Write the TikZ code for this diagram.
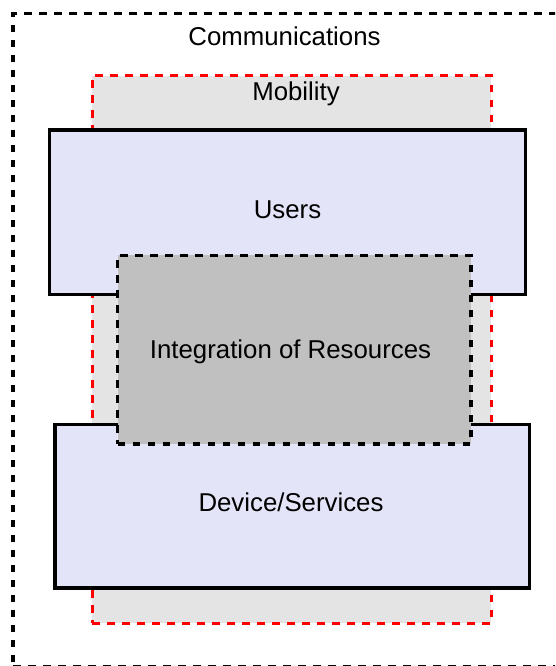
\documentclass[tikz,border=0pt]{standalone}
\usepackage{fontspec}
\setmainfont{Liberation Sans}
\definecolor{lavenderfill}{RGB}{228,228,248}
\definecolor{mobgray}{RGB}{228,228,228}
\definecolor{coregray}{RGB}{192,192,192}
\begin{document}
\begin{tikzpicture}[x=1pt,y=-1pt,
  dashline/.style={dash pattern=on 7.5pt off 7.5pt, line width=3.3pt},
  outerbox/.style={draw=black, dashline, rectangle, inner sep=0pt},
  mobbox/.style={draw=red, fill=mobgray, dashline, rectangle, inner sep=0pt},
  layerbox/.style={draw=black, line width=3.2pt, fill=lavenderfill, rectangle, inner sep=0pt},
  corebox/.style={draw=black, fill=coregray, dashline, rectangle, inner sep=0pt},
  lbl/.style={font=\fontsize{25.8}{30}\selectfont, inner sep=0pt, anchor=base}]
\useasboundingbox (0,0) rectangle (555,666);
\clip (0,0) rectangle (555,666);
% nested layers, outermost first
\node[outerbox, minimum width=545pt, minimum height=653.6pt] (comm) at (285.5,340.1) {};
\node[mobbox, minimum width=399pt, minimum height=547.6pt] (mob) at (291.8,349.5) {};
\node[layerbox, minimum width=476.4pt, minimum height=164.7pt] (users) at (287.5,212.3) {};
\node[layerbox, minimum width=474.7pt, minimum height=163.3pt] (dev) at (292.3,506.3) {};
\node[corebox, minimum width=353.3pt, minimum height=188.7pt] (core) at (294.3,349.7) {};
% labels
\node[lbl] (commlbl) at (284.5,45.7) {Communications};
\node[lbl] (moblbl) at (296,100.7) {Mobility};
\node[lbl] (userslbl) at (287.5,218.3) {Users};
\node[lbl] (corelbl) at (290.5,358) {Integration of Resources};
\node[lbl] (devlbl) at (291,511.7) {Device/Services};
\end{tikzpicture}
\end{document}
